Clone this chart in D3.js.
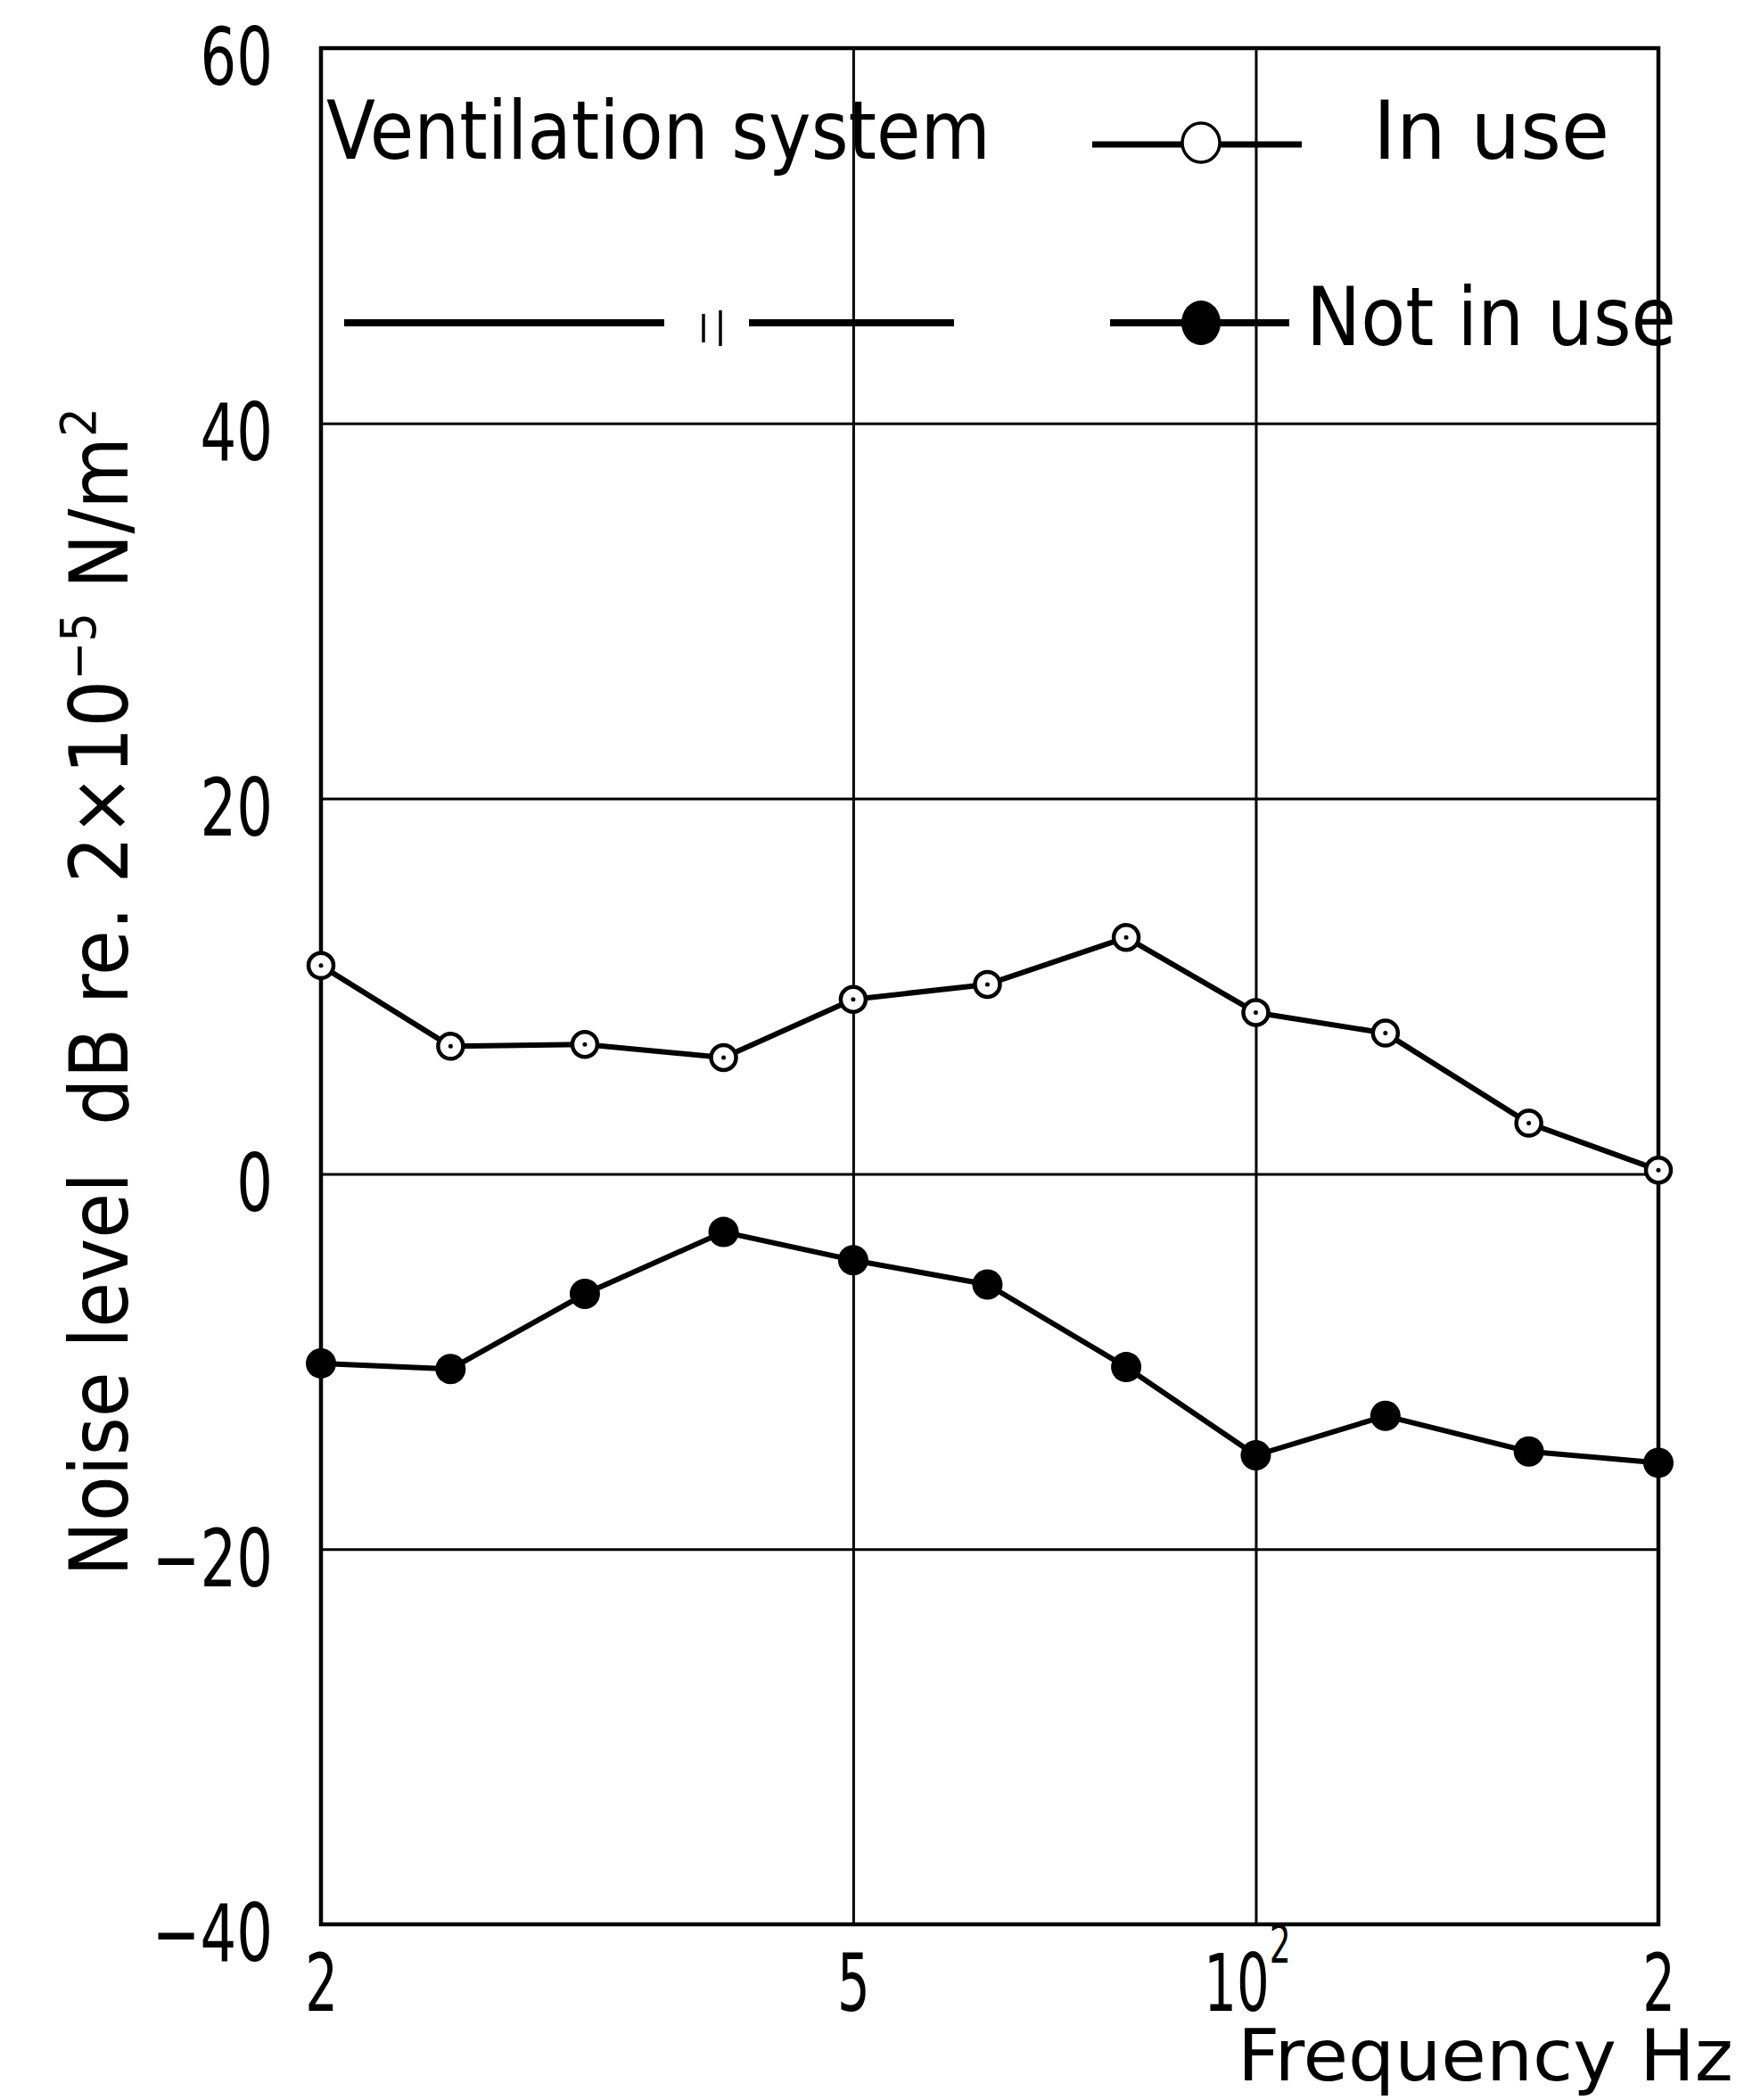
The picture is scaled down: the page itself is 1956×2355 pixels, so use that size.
<!DOCTYPE html>
<html>
<head>
<meta charset="utf-8">
<script src="https://cdn.jsdelivr.net/npm/d3@7/dist/d3.min.js"></script>
<style>
  html, body { margin: 0; padding: 0; background: #fff; }
  svg { display: block; }
  text { font-family: "DejaVu Sans", sans-serif; fill: #000; }
</style>
</head>
<body>
<script>
// ---------------- data ----------------
const freqs = [20, 25, 31.5, 40, 50, 63, 80, 100, 125, 160, 200];
const inUse = [11.1, 6.8, 6.9, 6.2, 9.3, 10.1, 12.6, 8.6, 7.5, 2.7, 0.2];
const notInUse = [-10.1, -10.4, -6.4, -3.1, -4.6, -5.9, -10.3, -15.0, -12.9, -14.8, -15.4];
const yTicks = [-40, -20, 0, 20, 40, 60];
const xTicks = [20, 50, 100, 200];
const xTickLabels = ["2", "5", "10^2", "2"];
const legendTitle = "Ventilation system";
const legendLabels = ["In use", "Not in use"];
const xTitle = "Frequency Hz";
const yTitleParts = [["Noise level  dB re. 2×10", 0], ["−5", 1], [" N/m", 0], ["2", 1]];

// ---------------- layout ----------------
const W = 1956, H = 2355;
const m = { l: 360, r: 1860, t: 54, b: 2158 };
const FS = 89;        // main font size
const SQ = 0.72;      // horizontal squeeze of the narrow drafting lettering

const svg = d3.select("body").append("svg").attr("width", W).attr("height", H);
svg.append("rect").attr("width", W).attr("height", H).attr("fill", "#fff");

const x = d3.scaleLog().domain([20, 200]).range([m.l, m.r]);
const y = d3.scaleLinear().domain([-40, 60]).range([m.b, m.t]);

// helper: text inside a transformed group, squeezed to a target width
function fitText(parent, tx, ty, rot, anchor, size, target, build) {
  const g = parent.append("g").attr("transform", `translate(${tx},${ty}) rotate(${rot})`);
  const t = g.append("text").attr("font-size", size).attr("text-anchor", anchor)
    .style("white-space", "pre");
  build(t);
  if (target) {
    const w = t.node().getBBox().width;
    t.attr("transform", `scale(${target / w},1)`);
  }
  return t;
}

// ---------------- y axis + horizontal grid ----------------
const gy = svg.append("g").attr("transform", `translate(${m.l},0)`)
  .call(d3.axisLeft(y).tickValues(yTicks).tickSize(-(m.r - m.l)).tickPadding(52).tickFormat(d3.format("d")));
gy.select(".domain").remove();
gy.selectAll(".tick line").attr("stroke", "#000").attr("stroke-width", 3);
gy.selectAll(".tick text")
  .attr("font-size", FS).attr("font-family", "DejaVu Sans").attr("fill", "#000")
  .attr("x", 0).attr("dy", "0.46em")
  .attr("transform", `translate(-54,0) scale(${SQ},1)`);

// ---------------- x axis + vertical grid ----------------
const gx = svg.append("g").attr("transform", `translate(0,${m.b})`)
  .call(d3.axisBottom(x).tickValues(xTicks).tickSize(-(m.b - m.t)).tickFormat((d, i) => xTickLabels[i]));
gx.select(".domain").remove();
gx.selectAll(".tick line").attr("stroke", "#000").attr("stroke-width", 3);
gx.selectAll(".tick text").each(function (d, i) {
  const t = d3.select(this);
  const parts = xTickLabels[i].split("^");
  t.text(null).attr("font-size", FS).attr("font-family", "DejaVu Sans").attr("fill", "#000")
    .attr("y", 0).attr("dy", 0).attr("text-anchor", "middle")
    .attr("transform", `translate(${parts.length > 1 ? -10 : 0},97) scale(${SQ * 0.9},1)`);
  t.append("tspan").text(parts[0]);
  if (parts.length > 1) t.append("tspan").attr("font-size", 58).attr("dy", -54).text(parts[1]);
});

// ---------------- frame ----------------
svg.append("rect").attr("x", m.l).attr("y", m.t).attr("width", m.r - m.l).attr("height", m.b - m.t)
  .attr("fill", "none").attr("stroke", "#000").attr("stroke-width", 4.5);

// ---------------- series ----------------
const line = d3.line().x((d, i) => x(freqs[i])).y(d => y(d));
svg.append("path").datum(inUse).attr("d", line)
  .attr("fill", "none").attr("stroke", "#000").attr("stroke-width", 6).attr("stroke-linejoin", "round");
svg.append("path").datum(notInUse).attr("d", line)
  .attr("fill", "none").attr("stroke", "#000").attr("stroke-width", 6).attr("stroke-linejoin", "round");

const gOpen = svg.append("g");
gOpen.selectAll("circle.o").data(inUse).join("circle").attr("class", "o")
  .attr("cx", (d, i) => x(freqs[i])).attr("cy", d => y(d)).attr("r", 14)
  .attr("fill", "#fff").attr("stroke", "#000").attr("stroke-width", 4.5);
gOpen.selectAll("circle.c").data(inUse).join("circle").attr("class", "c")
  .attr("cx", (d, i) => x(freqs[i])).attr("cy", d => y(d)).attr("r", 2.5).attr("fill", "#000");

svg.append("g").selectAll("circle").data(notInUse).join("circle")
  .attr("cx", (d, i) => x(freqs[i])).attr("cy", d => y(d)).attr("r", 17).attr("fill", "#000");

// ---------------- legend ----------------
const lg = svg.append("g");
fitText(lg, 366, 178, 0, "start", 90, 745, t => t.text(legendTitle));
// row 1: open marker
lg.append("line").attr("x1", 1225).attr("x2", 1460).attr("y1", 162).attr("y2", 162)
  .attr("stroke", "#000").attr("stroke-width", 7);
lg.append("ellipse").attr("cx", 1347).attr("cy", 160).attr("rx", 21).attr("ry", 22)
  .attr("fill", "#fff").attr("stroke", "#000").attr("stroke-width", 3.5);
fitText(lg, 1540, 178, 0, "start", 90, 265, t => t.text(legendLabels[0]));
// row 2: ditto line
lg.append("line").attr("x1", 386).attr("x2", 745).attr("y1", 362).attr("y2", 362)
  .attr("stroke", "#000").attr("stroke-width", 8);
lg.append("line").attr("x1", 789).attr("x2", 789).attr("y1", 352).attr("y2", 384)
  .attr("stroke", "#000").attr("stroke-width", 3.5);
lg.append("line").attr("x1", 808).attr("x2", 808).attr("y1", 348).attr("y2", 388)
  .attr("stroke", "#000").attr("stroke-width", 3.5);
lg.append("line").attr("x1", 840).attr("x2", 1070).attr("y1", 362).attr("y2", 362)
  .attr("stroke", "#000").attr("stroke-width", 8);
// row 2: filled marker
lg.append("line").attr("x1", 1245).attr("x2", 1446).attr("y1", 362).attr("y2", 362)
  .attr("stroke", "#000").attr("stroke-width", 8);
lg.append("ellipse").attr("cx", 1347).attr("cy", 362).attr("rx", 22).attr("ry", 25).attr("fill", "#000");
fitText(lg, 1465, 387, 0, "start", 90, 415, t => t.text(legendLabels[1]));

// ---------------- axis titles ----------------
fitText(svg, 1944, 2333, 0, "end", 80, 556, t => t.text(xTitle));
fitText(svg, 143, 1768, -90, "start", 90, 1311, t => {
  yTitleParts.forEach(([s, sup], i) => {
    const prevSup = i > 0 ? yTitleParts[i - 1][1] : 0;
    const ts = t.append("tspan").text(s);
    if (sup) ts.attr("font-size", 56).attr("dy", -36);
    else if (prevSup) ts.attr("dy", 36);
  });
});
</script>
</body>
</html>
